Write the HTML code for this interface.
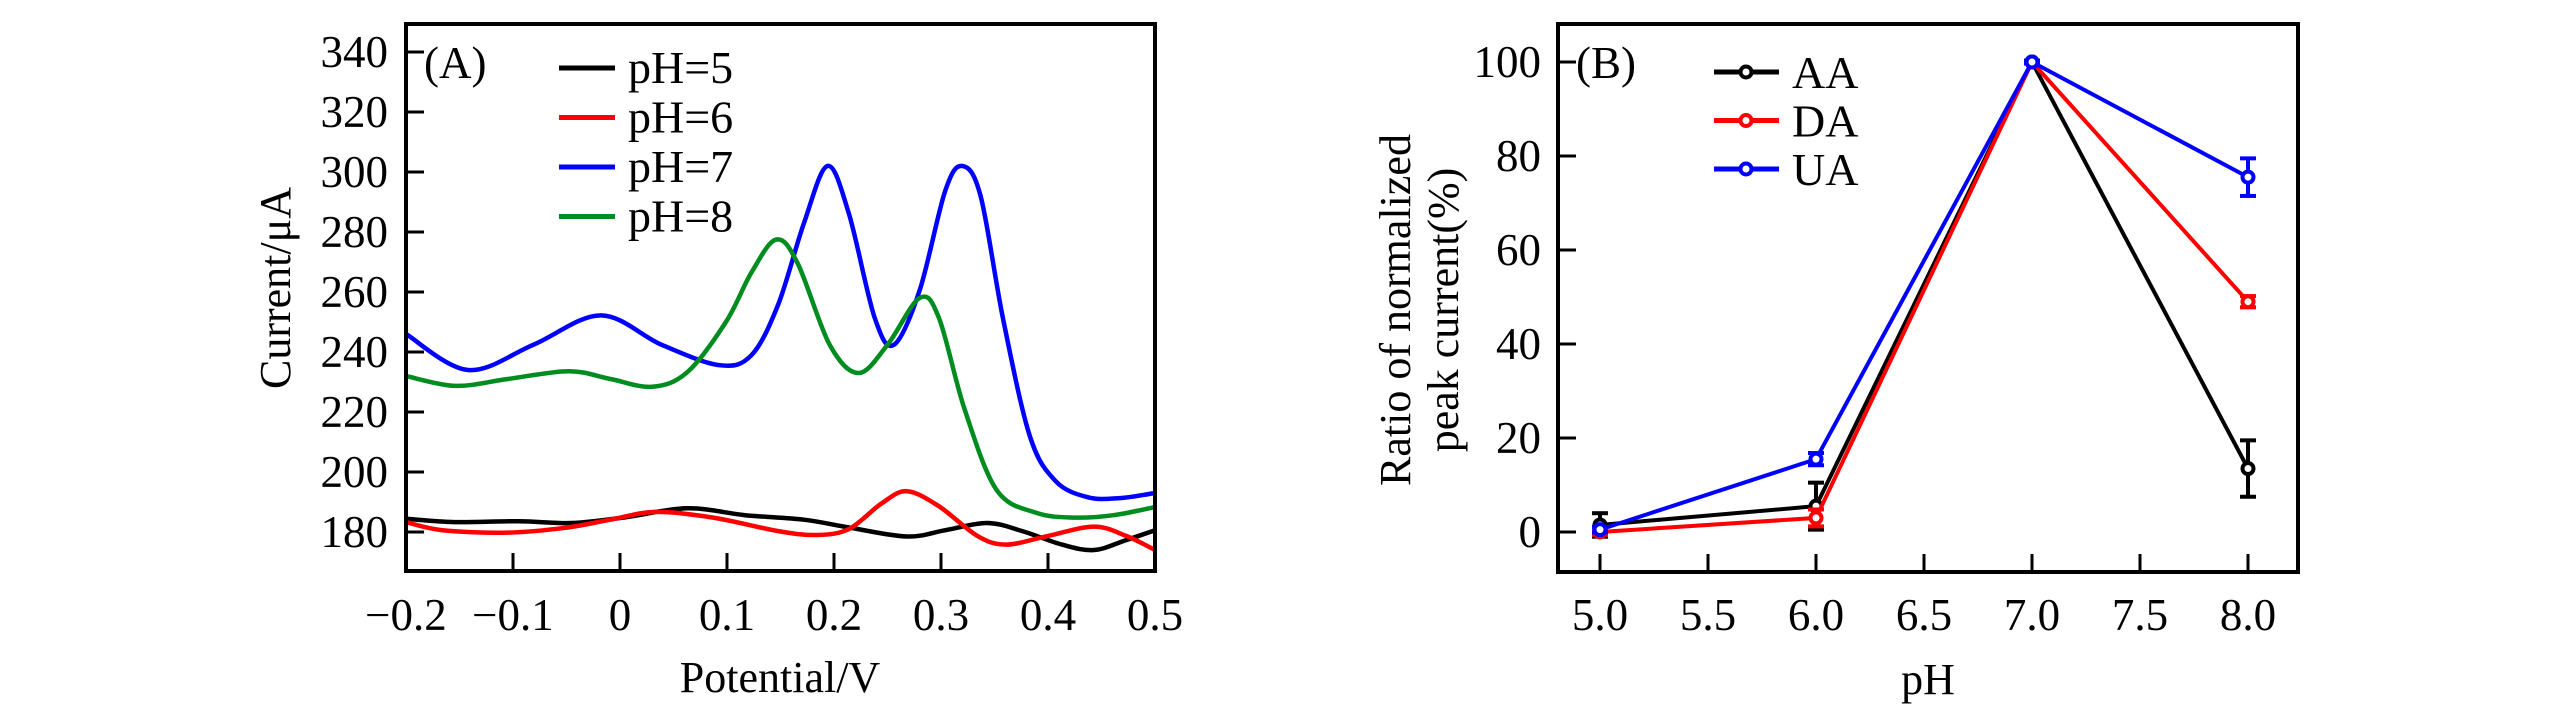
<!DOCTYPE html>
<html><head><meta charset="utf-8"><style>
html,body{margin:0;padding:0;background:#fff;}
svg{display:block;font-family:"Liberation Serif",serif;}
</style></head><body>
<svg id="fig" width="2567" height="709" viewBox="0 0 2567 709" xmlns="http://www.w3.org/2000/svg">
<g id="pa"></g>
<g id="pb"></g>
</svg>
<script>
// ---------- Panel A data ----------
const aXTicks = [-0.2,-0.1,0,0.1,0.2,0.3,0.4,0.5];
const aXTickLabels = ["\u22120.2","\u22120.1","0","0.1","0.2","0.3","0.4","0.5"];
const aYTicks = [180,200,220,240,260,280,300,320,340];
const aSeriesNames = ["pH=5","pH=6","pH=7","pH=8"];
const aColors = ["#000000","#ff0000","#0000ff","#008c1e"];
const ph5V = [-0.2,-0.154,-0.094,-0.045,0.003,0.063,0.117,0.172,0.214,0.268,0.304,0.343,0.376,0.413,0.443,0.473,0.5];
const ph5I = [184.4,183.3,183.6,183,184.8,187.9,185.6,184.1,181.5,178.5,180.6,183,180.3,175.8,174,177.3,180.6];
const ph6V = [-0.2,-0.166,-0.105,-0.051,-0.009,0.033,0.087,0.148,0.184,0.214,0.244,0.268,0.298,0.334,0.361,0.4,0.443,0.473,0.5];
const ph6I = [183.3,180.6,179.8,181.4,184.1,186.7,184.8,180.3,179,181,189.4,193.6,188.6,178.7,175.8,178.7,181.8,178.7,174];
const ph7V = [-0.2,-0.142,-0.081,-0.018,0.039,0.093,0.123,0.148,0.172,0.194,0.214,0.238,0.256,0.28,0.304,0.32,0.337,0.358,0.383,0.407,0.437,0.467,0.5];
const ph7I = [246,234,242.4,252.2,242.4,235.6,239,256,283,302,286,251.4,242.4,260.5,293.8,302,292,251,212,197,191.6,191.3,193];
const ph8V = [-0.2,-0.154,-0.105,-0.048,-0.009,0.03,0.063,0.099,0.123,0.146,0.166,0.196,0.223,0.25,0.28,0.298,0.322,0.352,0.389,0.425,0.461,0.5];
const ph8I = [232,228.7,231,233.6,231,228.4,233.3,250,266.6,277.5,269.6,242.4,233,242.4,258,251.4,221,194,186.4,184.8,185.6,188.3];

// ---------- Panel B data ----------
const bXTicks = [5.0,5.5,6.0,6.5,7.0,7.5,8.0];
const bYTicks = [0,20,40,60,80,100];
const bPH = [5,6,7,8];
const bNames = ["AA","DA","UA"];
const bColors = ["#000000","#ff0000","#0000ff"];
const aaVal = [1.5,5.5,100,13.5];
const aaErr = [2.5,5,0.3,6];
const daVal = [0,3,100,49];
const daErr = [0.6,1.8,0.3,1.2];
const uaVal = [0.5,15.5,100,75.5];
const uaErr = [0.6,1.3,0.3,4];

const NS="http://www.w3.org/2000/svg";
function mk(tag, attrs, parent){const e=document.createElementNS(NS,tag);for(const k in attrs)e.setAttribute(k,attrs[k]);parent.appendChild(e);return e;}

// ---------- Panel A ----------
const pa=document.getElementById('pa');
const AL=406,AR=1155,AT=24,AB=571;
const ax=v=>AL+(v+0.2)/0.7*(AR-AL);
const ay=v=>532-(v-180)*3;
function smooth(pts){
  let d=`M${pts[0][0]},${pts[0][1]}`;
  for(let i=0;i<pts.length-1;i++){
    const p0=pts[Math.max(0,i-1)],p1=pts[i],p2=pts[i+1],p3=pts[Math.min(pts.length-1,i+2)];
    const c1x=p1[0]+(p2[0]-p0[0])/6,c1y=p1[1]+(p2[1]-p0[1])/6;
    const c2x=p2[0]-(p3[0]-p1[0])/6,c2y=p2[1]-(p3[1]-p1[1])/6;
    d+=` C${c1x.toFixed(1)},${c1y.toFixed(1)} ${c2x.toFixed(1)},${c2y.toFixed(1)} ${p2[0].toFixed(1)},${p2[1].toFixed(1)}`;
  }
  return d;
}
const clipA=mk('clipPath',{id:'ca'},pa);mk('rect',{x:AL,y:AT,width:AR-AL,height:AB-AT},clipA);
const aV=[ph5V,ph6V,ph7V,ph8V], aI=[ph5I,ph6I,ph7I,ph8I];
const aKeys=['ph5','ph6','ph7','ph8'];
for(let s=0;s<4;s++){
  const pts=aV[s].map((v,i)=>[ax(v),ay(aI[s][i])]);
  const p=mk('path',{d:smooth(pts),fill:'none',stroke:aColors[s],'stroke-width':4.5,'clip-path':'url(#ca)'},pa);
  
  
}
let fa=mk('rect',{x:AL,y:AT,width:AR-AL,height:AB-AT,fill:'none',stroke:'#000','stroke-width':4},pa);


aXTicks.forEach((v,i)=>{
  if(i>0&&i<aXTicks.length-1){const t=mk('line',{x1:ax(v),x2:ax(v),y1:AB,y2:AB-18,stroke:'#000','stroke-width':3},pa);
  
  }
  const l=mk('text',{x:ax(v),y:630,'font-size':45,'text-anchor':'middle'},pa);l.textContent=aXTickLabels[i];
  
  
});
aYTicks.forEach(v=>{
  const t=mk('line',{x1:AL,x2:AL+18,y1:ay(v),y2:ay(v),stroke:'#000','stroke-width':3},pa);
  
  
  const l=mk('text',{x:388,y:ay(v)+15,'font-size':45,'text-anchor':'end'},pa);l.textContent=v;
  
  
});
let t=mk('text',{x:780,y:692,'font-size':44,'text-anchor':'middle'},pa);t.textContent='Potential/V';


t=mk('text',{x:0,y:0,'font-size':44,'text-anchor':'middle',transform:'translate(290,288) rotate(-90)'},pa);t.textContent='Current/\u03bcA';


t=mk('text',{x:424,y:78,'font-size':45},pa);t.textContent='(A)';


aSeriesNames.forEach((n,i)=>{
  const yy=68+i*49.5;
  const ln=mk('line',{x1:559,x2:615,y1:yy,y2:yy,stroke:aColors[i],'stroke-width':5},pa);
  
  
  const tx=mk('text',{x:628,y:yy+15,'font-size':46},pa);tx.textContent=n;
  
  
});

// ---------- Panel B ----------
const pb=document.getElementById('pb');
const BL=1558,BR=2298,BT=24,BB=572;
const bx=v=>1600+(v-5)*216;
const by=v=>532-v*4.7;
const bVals=[aaVal,daVal,uaVal], bErrs=[aaErr,daErr,uaErr];
for(let s=0;s<3;s++){
  const d=bPH.map((p,i)=>(i?'L':'M')+bx(p)+','+by(bVals[s][i])).join(' ');
  const p=mk('path',{d:d,fill:'none',stroke:bColors[s],'stroke-width':4},pb);
  
  
  bPH.forEach((ph,i)=>{
    const x=bx(ph),y1=by(bVals[s][i]-bErrs[s][i]),y2=by(bVals[s][i]+bErrs[s][i]);
    const g=mk('g',{stroke:bColors[s],'stroke-width':4},pb);
    
    
    mk('line',{x1:x,x2:x,y1:y1,y2:y2},g);
    mk('line',{x1:x-8,x2:x+8,y1:y1,y2:y1},g);
    mk('line',{x1:x-8,x2:x+8,y1:y2,y2:y2},g);
    const c=mk('circle',{cx:x,cy:by(bVals[s][i]),r:5.5,fill:'#fff',stroke:bColors[s],'stroke-width':4},pb);
    
    
  });
}
let fb=mk('rect',{x:BL,y:BT,width:BR-BL,height:BB-BT,fill:'none',stroke:'#000','stroke-width':4},pb);


bXTicks.forEach(v=>{
  const tk=mk('line',{x1:bx(v),x2:bx(v),y1:BB,y2:BB-18,stroke:'#000','stroke-width':3},pb);
  
  
  const l=mk('text',{x:bx(v),y:630,'font-size':45,'text-anchor':'middle'},pb);l.textContent=v.toFixed(1);
  
  
});
bYTicks.forEach(v=>{
  const tk=mk('line',{x1:BL,x2:BL+18,y1:by(v),y2:by(v),stroke:'#000','stroke-width':3},pb);
  
  
  const l=mk('text',{x:1541,y:by(v)+15,'font-size':45,'text-anchor':'end'},pb);l.textContent=v;
  
  
});
t=mk('text',{x:1928,y:694,'font-size':44,'text-anchor':'middle'},pb);t.textContent='pH';


t=mk('text',{x:0,y:0,'font-size':44,'text-anchor':'middle',transform:'translate(1410,310) rotate(-90)'},pb);t.textContent='Ratio of normalized';


t=mk('text',{x:0,y:0,'font-size':44,'text-anchor':'middle',transform:'translate(1458,310) rotate(-90)'},pb);t.textContent='peak current(%)';


t=mk('text',{x:1576,y:78,'font-size':45},pb);t.textContent='(B)';


bNames.forEach((n,i)=>{
  const yy=72+i*48.5;
  const ln=mk('line',{x1:1714,x2:1779,y1:yy,y2:yy,stroke:bColors[i],'stroke-width':5},pb);
  
  
  const c=mk('circle',{cx:1746,cy:yy,r:5.5,fill:'#fff',stroke:bColors[i],'stroke-width':4},pb);
  
  
  const tx=mk('text',{x:1792,y:yy+16,'font-size':46},pb);tx.textContent=n;
  
  
});
</script>
</body></html>
